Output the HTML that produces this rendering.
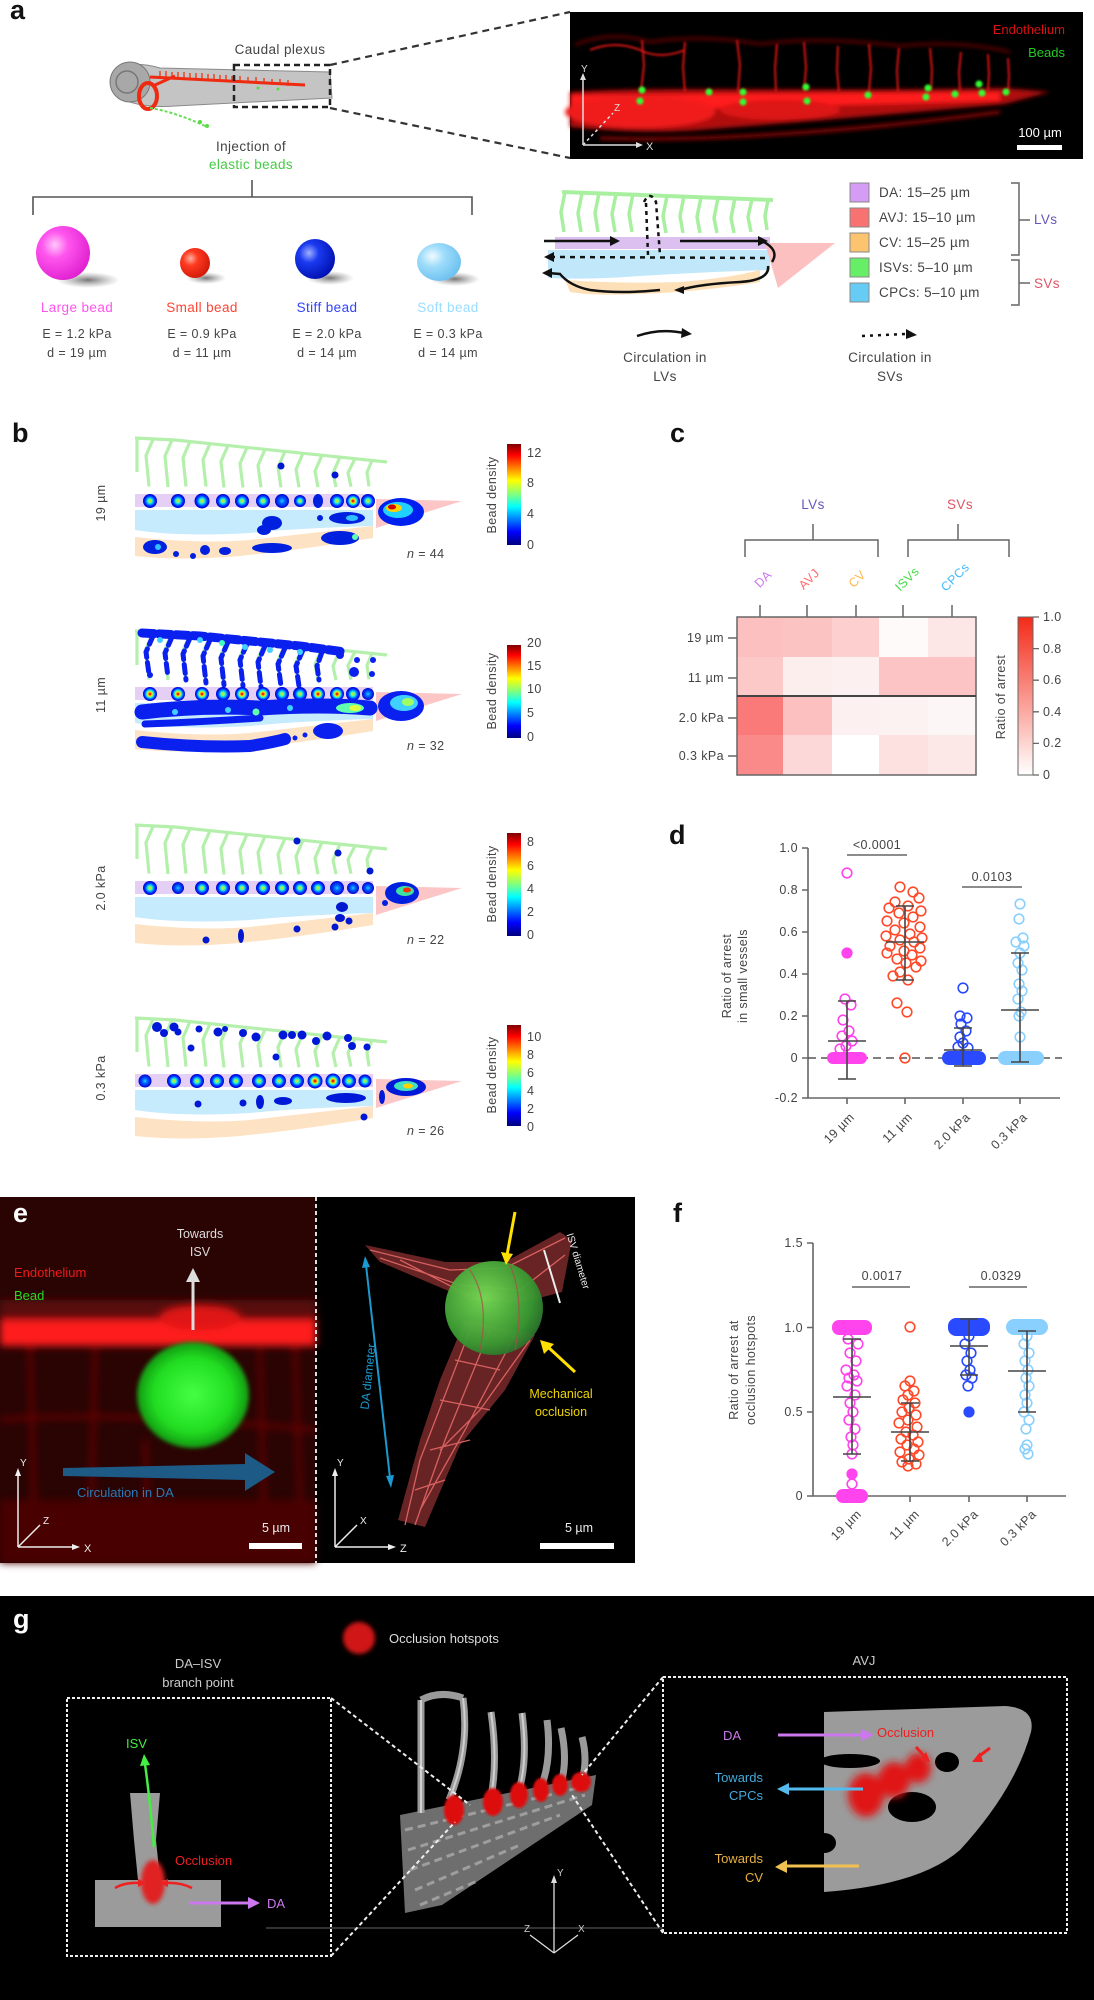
<!DOCTYPE html>
<html><head><meta charset="utf-8">
<style>
html,body{margin:0;padding:0;background:#fff;}
svg{display:block;font-family:"Liberation Sans",Arial,sans-serif;}
.t{fill:#444;font-size:13.5px;letter-spacing:0.4px}
.s{fill:#444;font-size:12.5px;letter-spacing:0.4px}
.L{font-weight:bold;font-size:27px;fill:#111}
.m{fill:none;stroke:#ff44ee;stroke-width:1.6}
.r{fill:none;stroke:#ff4a2a;stroke-width:1.6}
.b{fill:none;stroke:#2a4aff;stroke-width:1.6}
.l{fill:none;stroke:#8ad0ff;stroke-width:1.6}
.eb{stroke:#444;stroke-width:1.6;fill:none}
.ax{stroke:#666;stroke-width:1.6;fill:none}
</style></head>
<body>
<svg width="1094" height="2000" viewBox="0 0 1094 2000" xmlns="http://www.w3.org/2000/svg">
<defs>
<filter id="bl1" x="-20%" y="-20%" width="140%" height="140%"><feGaussianBlur stdDeviation="1"/></filter>
<filter id="bl2" x="-30%" y="-30%" width="160%" height="160%"><feGaussianBlur stdDeviation="2"/></filter>
<filter id="bl4" x="-30%" y="-30%" width="160%" height="160%"><feGaussianBlur stdDeviation="4"/></filter>
<filter id="bl6" x="-40%" y="-40%" width="180%" height="180%"><feGaussianBlur stdDeviation="6"/></filter>
<radialGradient id="j1"><stop offset="0" stop-color="#c00000"/><stop offset=".15" stop-color="#ff4000"/><stop offset=".3" stop-color="#ffe000"/><stop offset=".45" stop-color="#60ff90"/><stop offset=".6" stop-color="#00c0ff"/><stop offset=".78" stop-color="#0030ff"/><stop offset="1" stop-color="#0000d0"/></radialGradient>
<radialGradient id="j2"><stop offset="0" stop-color="#ffd000"/><stop offset=".25" stop-color="#60ff90"/><stop offset=".45" stop-color="#00c0ff"/><stop offset=".7" stop-color="#0030ff"/><stop offset="1" stop-color="#0000d0"/></radialGradient>
<radialGradient id="j3"><stop offset="0" stop-color="#20d0ff"/><stop offset=".4" stop-color="#0060ff"/><stop offset="1" stop-color="#0000d0"/></radialGradient>
<linearGradient id="jet" x1="0" y1="0" x2="0" y2="1"><stop offset="0" stop-color="#7f0000"/><stop offset=".11" stop-color="#ff0000"/><stop offset=".36" stop-color="#ffff00"/><stop offset=".5" stop-color="#7fff80"/><stop offset=".62" stop-color="#00ffff"/><stop offset=".87" stop-color="#0000ff"/><stop offset="1" stop-color="#00007f"/></linearGradient>
<linearGradient id="redbar" x1="0" y1="0" x2="0" y2="1"><stop offset="0" stop-color="#f42a18"/><stop offset="1" stop-color="#ffffff"/></linearGradient>
<radialGradient id="gm" cx=".35" cy=".35" r=".7"><stop offset="0" stop-color="#ffc8fa"/><stop offset=".35" stop-color="#ff55ee"/><stop offset="1" stop-color="#e020d0"/></radialGradient>
<radialGradient id="gr" cx=".35" cy=".35" r=".7"><stop offset="0" stop-color="#ffb0a0"/><stop offset=".35" stop-color="#ff3a20"/><stop offset="1" stop-color="#d01a0a"/></radialGradient>
<radialGradient id="gb" cx=".35" cy=".35" r=".7"><stop offset="0" stop-color="#a0b0ff"/><stop offset=".35" stop-color="#1a3af0"/><stop offset="1" stop-color="#0010b0"/></radialGradient>
<radialGradient id="gl" cx=".35" cy=".35" r=".7"><stop offset="0" stop-color="#f0fbff"/><stop offset=".4" stop-color="#9ddcfa"/><stop offset="1" stop-color="#6cc0f0"/></radialGradient>
<radialGradient id="gg"><stop offset="0" stop-color="#44ff44"/><stop offset=".7" stop-color="#22dd22"/><stop offset="1" stop-color="#119911"/></radialGradient>
<radialGradient id="gg2" cx=".4" cy=".4" r=".7"><stop offset="0" stop-color="#77dd55"/><stop offset=".7" stop-color="#3a9a32"/><stop offset="1" stop-color="#24622a"/></radialGradient>
<radialGradient id="sh"><stop offset="0" stop-color="#555" stop-opacity=".8"/><stop offset="1" stop-color="#888" stop-opacity="0"/></radialGradient>

<g id="fb">
<path d="M137,438 L137,472 M135,438 L175,440 L387,462" stroke="#b4f0ac" stroke-width="3.2" fill="none"/>
<path d="M153,439.5 l-7,16 l3,31 M172,440 l-7,16 l3,31 M190,441.6 l-7,16 l3,29 M210,443.6 l-7,16 l3,27 M228,445.5 l-7,16 l3,26 M247,447.5 l-7,16 l3,24 M265,449.3 l-7,16 l3,22 M285,451.4 l-7,16 l3,20 M303,453.3 l-7,16 l3,18 M322,455.2 l-7,16 l3,16 M340,457.1 l-7,16 l3,14 M355,458.7 l-7,14 l3,14 M372,460.4 l-5,12 l2,14" stroke="#b4f0ac" stroke-width="3.2" fill="none"/>
<rect x="135" y="494" width="238" height="13" fill="#e6cff5"/>
<path d="M135,510 L373,510 L373,526 Q300,528 250,533 Q180,537 135,530 Z" fill="#c6ebfc"/>
<path d="M135,537 Q200,544 250,540 Q320,532 373,526 L373,538 Q300,550 240,556 Q180,561 135,556 Z" fill="#fde3c3"/>
<polygon points="376,499 462,501 376,528" fill="#fcc6c6"/>
</g>
</defs>

<!-- ================= PANEL A ================= -->
<text x="10" y="19" class="L">a</text>
<path d="M112,80 C112,62 140,62 160,68 L330,72 L332,98 L175,106 C150,108 120,104 112,90 Z" fill="#c4c4c4" stroke="#8a8a8a" stroke-width="1"/>
<circle cx="130" cy="82" r="20" fill="#a8a8a8" stroke="#777" stroke-width="1"/>
<circle cx="127" cy="82" r="11" fill="none" stroke="#777" stroke-width="1.5"/>
<path d="M150,77 L305,85" stroke="#ee2a10" stroke-width="3"/>
<path d="M160,71 v6 M166,71 v6 M172,72 v6 M178,72 v6 M184,72 v6 M190,73 v6 M196,73 v6 M202,73 v6 M208,74 v6 M214,74 v6 M220,75 v6 M226,75 v6 M232,76 v6 M240,76 v6 M248,77 v6 M256,77 v6 M264,78 v6 M272,79 v6 M280,79 v6 M288,80 v6" stroke="#ee3010" stroke-width="1.3"/>
<ellipse cx="148" cy="96" rx="9" ry="13" fill="none" stroke="#ee2a10" stroke-width="4"/>
<path d="M155,85 L175,76" stroke="#ee2a10" stroke-width="3"/>
<path d="M150,108 Q175,112 205,126" stroke="#66dd55" stroke-width="2" fill="none" stroke-dasharray="3 2"/>
<circle cx="200" cy="122" r="2" fill="#55dd44"/><circle cx="207" cy="126" r="2" fill="#55dd44"/><circle cx="258" cy="88" r="1.5" fill="#55dd44"/><circle cx="278" cy="89" r="1.5" fill="#55dd44"/>
<rect x="234" y="65" width="96" height="42" fill="none" stroke="#222" stroke-width="2.5" stroke-dasharray="6 4"/>
<path d="M330,65 L570,12 M330,108 L570,158" stroke="#333" stroke-width="2.2" stroke-dasharray="7 5"/>
<text x="280" y="54" class="t" text-anchor="middle">Caudal plexus</text>
<text x="251" y="151" class="t" text-anchor="middle">Injection of</text>
<text x="251" y="169" class="t" text-anchor="middle" style="fill:#44cc44">elastic beads</text>
<path d="M252,180 V197 M33,215 V197 H472 V215" stroke="#555" stroke-width="1.6" fill="none"/>
<ellipse cx="88" cy="280" rx="32" ry="8" fill="url(#sh)"/>
<circle cx="63" cy="253" r="27" fill="url(#gm)"/>
<ellipse cx="206" cy="278" rx="20" ry="6" fill="url(#sh)"/>
<circle cx="195" cy="263" r="15" fill="url(#gr)"/>
<ellipse cx="330" cy="278" rx="24" ry="7" fill="url(#sh)"/>
<circle cx="315" cy="259" r="20" fill="url(#gb)"/>
<ellipse cx="455" cy="279" rx="25" ry="7" fill="url(#sh)"/>
<ellipse cx="439" cy="262" rx="22" ry="19" fill="url(#gl)"/>
<text x="77" y="312" class="t" text-anchor="middle" style="fill:#ff55ee">Large bead</text>
<text x="202" y="312" class="t" text-anchor="middle" style="fill:#ff4433">Small bead</text>
<text x="327" y="312" class="t" text-anchor="middle" style="fill:#3344ff">Stiff bead</text>
<text x="448" y="312" class="t" text-anchor="middle" style="fill:#99ddff">Soft bead</text>
<g class="s" text-anchor="middle">
<text x="77" y="338">E = 1.2 kPa</text><text x="77" y="357">d = 19 µm</text>
<text x="202" y="338">E = 0.9 kPa</text><text x="202" y="357">d = 11 µm</text>
<text x="327" y="338">E = 2.0 kPa</text><text x="327" y="357">d = 14 µm</text>
<text x="448" y="338">E = 0.3 kPa</text><text x="448" y="357">d = 14 µm</text>
</g>
<!-- microscopy -->
<rect x="570" y="12" width="513" height="147" fill="#000"/>
<g filter="url(#bl2)">
<path d="M575,45 Q610,30 650,42 Q700,34 760,44 Q820,36 900,46 Q960,40 1010,52" stroke="#8a0a0a" stroke-width="2" fill="none"/>
<path d="M570,92 C650,86 800,92 1005,88 L1050,92 L1005,104 C900,114 800,122 700,130 C650,134 600,130 570,127 Z" fill="#b00c0c"/>
<path d="M570,95 L1000,92 L1000,101 L570,112 Z" fill="#ff1a1a"/>
<ellipse cx="640" cy="112" rx="75" ry="16" fill="#f01c1c"/>
<ellipse cx="780" cy="110" rx="60" ry="10" fill="#dd1616"/>
<path d="M600,138 C700,142 850,132 1000,112" stroke="#a00c0c" stroke-width="3" fill="none"/>
</g>
<g filter="url(#bl1)" stroke="#d81414" stroke-width="2" fill="none">
<path d="M642,40 l2,25 l-3,27 M685,42 l-2,25 l2,25 M737,40 l3,25 l-2,27 M777,44 l-2,24 l1,24 M804,42 l2,25 l-2,25 M838,46 l-1,24 l2,22 M869,44 l2,25 l-2,23 M899,48 l-2,22 l1,22 M930,48 l2,22 l-1,22 M961,52 l-2,20 l1,20 M988,54 l1,20 l-1,18 M1008,58 l1,18 l-1,16"/>
<path d="M590,50 Q615,40 640,50 Q660,60 685,50" />
</g>
<g fill="#3f3" filter="url(#bl1)">
<circle cx="642" cy="90" r="3.5"/><circle cx="640" cy="101" r="3.5"/><circle cx="709" cy="92" r="3.5"/><circle cx="743" cy="92" r="3.5"/><circle cx="743" cy="102" r="3.5"/><circle cx="806" cy="87" r="3.5"/><circle cx="807" cy="101" r="3.5"/><circle cx="868" cy="95" r="3.5"/><circle cx="928" cy="88" r="3.5"/><circle cx="926" cy="97" r="3.5"/><circle cx="955" cy="94" r="3.5"/><circle cx="979" cy="84" r="3.5"/><circle cx="982" cy="93" r="3.5"/><circle cx="1006" cy="92" r="3.5"/>
</g>
<text x="1065" y="34" text-anchor="end" style="fill:#d81010;font-size:13px">Endothelium</text>
<text x="1065" y="57" text-anchor="end" style="fill:#22cc22;font-size:13px">Beads</text>
<text x="1040" y="137" text-anchor="middle" style="fill:#fff;font-size:13px">100 µm</text>
<rect x="1017" y="145" width="45" height="5" fill="#fff"/>
<path d="M583,145 V76 M583,145 H640" stroke="#ddd" stroke-width="1.5"/>
<path d="M583,145 L613,113" stroke="#ddd" stroke-width="1.5" stroke-dasharray="3 3"/>
<path d="M580,80 L583,73 L586,80 Z M636,142 L643,145 L636,148 Z" fill="#ddd"/>
<text x="581" y="72" style="fill:#ddd;font-size:10px">Y</text><text x="646" y="150" style="fill:#ddd;font-size:11px">X</text><text x="614" y="111" style="fill:#ddd;font-size:10px">Z</text>

<!-- schematic -->
<path d="M562,192 L773,200" stroke="#a8f0a0" stroke-width="4" fill="none"/>
<path d="M565,192 l-4,20 l3,20 M582,193 l-4,20 l3,19 M599,193 l-4,20 l3,19 M616,194 l-4,20 l3,18 M633,194 l-4,20 l3,18 M667,196 l-4,20 l3,17 M684,196 l-4,20 l3,17 M701,197 l-4,20 l3,16 M718,198 l-4,20 l3,15 M735,198 l-4,20 l3,15 M752,199 l-4,18 l3,15 M768,200 l-3,16 l2,14" stroke="#a8f0a0" stroke-width="3.5" fill="none"/>
<rect x="555" y="237" width="215" height="12" fill="#dcc0f0"/>
<path d="M548,250 L770,250 L770,270 Q700,272 640,276 Q590,280 548,278 Z" fill="#c0e8fa"/>
<path d="M565,280 Q620,284 680,282 Q730,278 760,270 L760,282 Q700,292 640,294 Q590,296 570,292 Z" fill="#fde0b8"/>
<polygon points="765,243 835,243 778,288" fill="#fcc0c0"/>
<path d="M644,202 Q650,190 656,202 L660,255" stroke="#111" stroke-width="2.5" stroke-dasharray="4 4" fill="none"/>
<path d="M646,203 L648,255" stroke="#111" stroke-width="2.5" stroke-dasharray="4 4" fill="none"/>
<path d="M544,241 L612,241 M680,241 L762,241 Q780,250 772,262" stroke="#111" stroke-width="2.5" fill="none"/>
<path d="M610,236 L620,241 L610,246 Z M758,236 L768,241 L758,246 Z" fill="#111"/>
<path d="M765,258 L552,257" stroke="#111" stroke-width="2.5" stroke-dasharray="5 5" fill="none"/>
<path d="M554,252 L544,257 L554,262 Z" fill="#111"/>
<path d="M768,266 Q770,280 740,282 Q700,284 680,290 M660,290 Q620,294 590,290 Q570,286 560,274 L548,273" stroke="#111" stroke-width="2.5" fill="none"/>
<path d="M552,268 L542,273 L552,278 Z M684,286 L674,290 L684,294 Z" fill="#111"/>
<g stroke="#888" stroke-width="1">
<rect x="850" y="183" width="19" height="19" fill="#d59cf5"/>
<rect x="850" y="208" width="19" height="19" fill="#f87272"/>
<rect x="850" y="233" width="19" height="19" fill="#fcc46e"/>
<rect x="850" y="258" width="19" height="19" fill="#66ee66"/>
<rect x="850" y="283" width="19" height="19" fill="#66ccf5"/>
</g>
<g class="t">
<text x="879" y="197">DA: 15–25 µm</text>
<text x="879" y="222">AVJ: 15–10 µm</text>
<text x="879" y="247">CV: 15–25 µm</text>
<text x="879" y="272">ISVs: 5–10 µm</text>
<text x="879" y="297">CPCs: 5–10 µm</text>
</g>
<path d="M1011,183 H1019 V255 H1011 M1019,220 H1030 M1011,260 H1019 V305 H1011 M1019,283 H1030" stroke="#666" stroke-width="1.5" fill="none"/>
<text x="1034" y="224" class="t" style="fill:#6655bb">LVs</text>
<text x="1034" y="288" class="t" style="fill:#dd5566">SVs</text>
<path d="M637,336 Q660,328 684,333" stroke="#111" stroke-width="2.5" fill="none"/>
<path d="M682,328 L692,334 L681,338 Z" fill="#111"/>
<path d="M862,336 L906,334" stroke="#111" stroke-width="2.5" stroke-dasharray="3 5" fill="none"/>
<path d="M906,329 L917,335 L906,339 Z" fill="#111"/>
<g class="t" text-anchor="middle">
<text x="665" y="362">Circulation in</text><text x="665" y="381">LVs</text>
<text x="890" y="362">Circulation in</text><text x="890" y="381">SVs</text>
</g>

<!-- ================= PANEL B ================= -->
<text x="12" y="442" class="L">b</text>
<use href="#fb"/>
<use href="#fb" transform="translate(0,193)"/>
<use href="#fb" transform="translate(0,387)"/>
<use href="#fb" transform="translate(0,580)"/>

<g>
<circle cx="150" cy="501" r="7" fill="url(#j2)"/><circle cx="178" cy="501" r="7" fill="url(#j2)"/><circle cx="202" cy="501" r="7.5" fill="url(#j2)"/><circle cx="223" cy="501" r="7" fill="url(#j2)"/><circle cx="242" cy="501" r="7" fill="url(#j2)"/><circle cx="263" cy="501" r="7" fill="url(#j2)"/><circle cx="282" cy="501" r="7" fill="url(#j3)"/><circle cx="300" cy="501" r="6" fill="url(#j2)"/><ellipse cx="318" cy="501" rx="5" ry="7" fill="#0020e0"/><circle cx="337" cy="501" r="7" fill="url(#j2)"/><circle cx="353" cy="501" r="7" fill="url(#j1)"/><circle cx="368" cy="501" r="7" fill="url(#j2)"/>
<circle cx="281" cy="466" r="3.5" fill="#0018d0"/><circle cx="335" cy="475" r="3.5" fill="#0018d0"/>
<ellipse cx="401" cy="512" rx="23" ry="14" fill="#0020f0"/><ellipse cx="398" cy="510" rx="15" ry="8" fill="#20d0ff"/><ellipse cx="394" cy="508" rx="8" ry="4" fill="#ffd000"/><ellipse cx="392" cy="507" rx="4" ry="2.5" fill="#d00000"/>
<ellipse cx="272" cy="523" rx="10" ry="7" fill="#0020e0"/><ellipse cx="264" cy="530" rx="7" ry="5" fill="#0020e0"/><circle cx="320" cy="518" r="3" fill="#0020e0"/>
<ellipse cx="347" cy="518" rx="18" ry="6" fill="#0020e0"/><ellipse cx="352" cy="518" rx="6" ry="3" fill="#30c0ff"/>
<ellipse cx="340" cy="538" rx="19" ry="7" fill="#0020e0"/><circle cx="355" cy="537" r="3" fill="#60ffb0"/>
<ellipse cx="155" cy="547" rx="12" ry="7" fill="#0020e0"/><circle cx="158" cy="547" r="3" fill="#30c0ff"/><circle cx="176" cy="554" r="3" fill="#0020e0"/><circle cx="193" cy="556" r="3" fill="#0020e0"/><circle cx="205" cy="550" r="5" fill="#0020e0"/><ellipse cx="225" cy="551" rx="6" ry="4" fill="#0020e0"/><ellipse cx="272" cy="548" rx="20" ry="5" fill="#0020e0"/>
</g>
<g>
<path d="M142,633 L200,636 L300,646 L345,652" stroke="#0a20ee" stroke-width="9" fill="none" stroke-linecap="round" stroke-dasharray="12 5"/>
<path d="M153,636 l-7,16 l3,22 M172,637 l-7,16 l3,24 M190,638 l-7,16 l3,26 M210,640 l-7,16 l3,27 M228,642 l-7,16 l3,27 M247,644 l-7,16 l3,26 M265,646 l-7,16 l3,25 M285,648 l-7,16 l3,22 M303,650 l-7,16 l3,20 M322,652 l-5,14 l2,14" stroke="#0a20ee" stroke-width="5" fill="none" stroke-linecap="round" stroke-dasharray="9 5"/>
<circle cx="160" cy="640" r="3" fill="#40d0ff"/><circle cx="200" cy="640" r="3" fill="#40d0ff"/><circle cx="222" cy="643" r="3" fill="#40ffc0"/><circle cx="245" cy="647" r="3" fill="#40d0ff"/><circle cx="270" cy="650" r="3" fill="#40d0ff"/><circle cx="300" cy="652" r="3" fill="#40d0ff"/><circle cx="340" cy="655" r="4" fill="#0a20ee"/><circle cx="357" cy="660" r="3" fill="#0a20ee"/><circle cx="373" cy="660" r="3" fill="#0a20ee"/><circle cx="354" cy="672" r="5" fill="#0a20ee"/><circle cx="372" cy="674" r="3" fill="#0a20ee"/><circle cx="150" cy="675" r="3" fill="#0a20ee"/>
<circle cx="150" cy="694" r="7" fill="url(#j1)"/><circle cx="178" cy="694" r="7" fill="url(#j1)"/><circle cx="202" cy="694" r="7" fill="url(#j1)"/><circle cx="223" cy="694" r="7" fill="url(#j2)"/><circle cx="242" cy="694" r="7" fill="url(#j1)"/><circle cx="263" cy="694" r="7" fill="url(#j1)"/><circle cx="282" cy="694" r="7" fill="url(#j2)"/><circle cx="300" cy="694" r="7" fill="url(#j2)"/><circle cx="318" cy="694" r="7" fill="url(#j1)"/><circle cx="337" cy="694" r="7" fill="url(#j1)"/><circle cx="353" cy="694" r="7" fill="url(#j2)"/><circle cx="368" cy="694" r="6" fill="url(#j3)"/>
<path d="M142,712 Q200,705 260,708 Q320,704 370,708" stroke="#0a20ee" stroke-width="15" fill="none" stroke-linecap="round"/>
<path d="M145,724 Q200,722 260,718" stroke="#0a20ee" stroke-width="7" fill="none" stroke-linecap="round"/>
<circle cx="175" cy="712" r="3" fill="#40d0ff"/><circle cx="228" cy="710" r="3" fill="#40d0ff"/><circle cx="256" cy="712" r="3.5" fill="#60ffb0"/><circle cx="290" cy="708" r="3" fill="#40d0ff"/><ellipse cx="350" cy="708" rx="14" ry="5" fill="#60ffb0"/><ellipse cx="355" cy="708" rx="6" ry="3" fill="#e0ff40"/>
<path d="M142,742 Q200,748 250,746 Q275,742 285,739" stroke="#0a20ee" stroke-width="12" fill="none" stroke-linecap="round"/>
<circle cx="295" cy="738" r="2.5" fill="#0a20ee"/><circle cx="305" cy="735" r="2.5" fill="#0a20ee"/><ellipse cx="328" cy="731" rx="15" ry="8" fill="#0a20ee"/>
<ellipse cx="401" cy="706" rx="23" ry="15" fill="#0a20ee"/><ellipse cx="404" cy="703" rx="14" ry="8" fill="#40d0ff"/><ellipse cx="408" cy="702" rx="6" ry="4" fill="#a0ff60"/>
</g>
<g>
<circle cx="150" cy="888" r="7" fill="url(#j2)"/><circle cx="178" cy="888" r="6" fill="url(#j3)"/><circle cx="202" cy="888" r="7" fill="url(#j2)"/><circle cx="223" cy="888" r="7" fill="url(#j2)"/><circle cx="242" cy="888" r="7" fill="url(#j2)"/><circle cx="263" cy="888" r="7" fill="url(#j2)"/><circle cx="282" cy="888" r="7" fill="url(#j2)"/><circle cx="300" cy="888" r="7" fill="url(#j2)"/><circle cx="318" cy="888" r="7" fill="url(#j2)"/><circle cx="337" cy="888" r="7" fill="url(#j3)"/><circle cx="353" cy="888" r="6" fill="url(#j3)"/><circle cx="368" cy="888" r="6" fill="url(#j3)"/>
<circle cx="297" cy="841" r="3.5" fill="#0018d0"/><circle cx="338" cy="853" r="3.5" fill="#0018d0"/><circle cx="370" cy="871" r="3.5" fill="#0018d0"/>
<ellipse cx="342" cy="907" rx="6" ry="5" fill="#0018d0"/><ellipse cx="340" cy="918" rx="5" ry="4" fill="#0018d0"/>
<circle cx="206" cy="940" r="3.5" fill="#0018d0"/><ellipse cx="241" cy="936" rx="3" ry="7" fill="#0018d0"/><circle cx="297" cy="929" r="3.5" fill="#0018d0"/><circle cx="335" cy="927" r="3.5" fill="#0018d0"/><circle cx="349" cy="921" r="3.5" fill="#0018d0"/>
<ellipse cx="402" cy="893" rx="17" ry="11" fill="#0020e0"/><ellipse cx="405" cy="891" rx="9" ry="5" fill="#40e0a0"/><ellipse cx="407" cy="890" rx="4" ry="2.5" fill="#ff3000"/><circle cx="385" cy="903" r="3" fill="#0020e0"/>
</g>
<g fill="#0018d8">
<circle cx="157" cy="1027" r="5"/><circle cx="164" cy="1033" r="4"/><circle cx="174" cy="1027" r="4.5"/><circle cx="178" cy="1032" r="3.5"/><circle cx="199" cy="1029" r="3.5"/><circle cx="218" cy="1032" r="4.5"/><circle cx="225" cy="1029" r="3"/><circle cx="243" cy="1033" r="4"/><circle cx="256" cy="1037" r="4.5"/><circle cx="283" cy="1035" r="4.5"/><circle cx="292" cy="1035" r="4"/><circle cx="302" cy="1035" r="4.5"/><circle cx="316" cy="1041" r="4"/><circle cx="327" cy="1036" r="4.5"/><circle cx="348" cy="1038" r="4"/><circle cx="352" cy="1046" r="4"/><circle cx="367" cy="1047" r="3.5"/><circle cx="191" cy="1048" r="3.5"/><circle cx="276" cy="1057" r="3.5"/>
<circle cx="198" cy="1104" r="3.5"/><circle cx="243" cy="1103" r="3.5"/><ellipse cx="260" cy="1102" rx="4" ry="7"/><ellipse cx="283" cy="1101" rx="9" ry="4"/><ellipse cx="346" cy="1098" rx="20" ry="5"/><circle cx="364" cy="1117" r="3.5"/>
<ellipse cx="382" cy="1097" rx="3" ry="7"/><ellipse cx="406" cy="1087" rx="20" ry="9"/>
</g>
<ellipse cx="406" cy="1086" rx="12" ry="5" fill="#40e0c0"/><ellipse cx="408" cy="1086" rx="5" ry="2.5" fill="#ffd000"/>
<g>
<circle cx="145" cy="1081" r="6.5" fill="url(#j3)"/><circle cx="174" cy="1081" r="7" fill="url(#j2)"/><circle cx="197" cy="1081" r="7" fill="url(#j2)"/><circle cx="217" cy="1081" r="7" fill="url(#j2)"/><circle cx="236" cy="1081" r="7" fill="url(#j2)"/><circle cx="259" cy="1081" r="7" fill="url(#j2)"/><circle cx="279" cy="1081" r="7" fill="url(#j2)"/><circle cx="297" cy="1081" r="7" fill="url(#j2)"/><circle cx="315" cy="1081" r="7.5" fill="url(#j1)"/><circle cx="333" cy="1081" r="7.5" fill="url(#j1)"/><circle cx="349" cy="1081" r="7" fill="url(#j2)"/><circle cx="365" cy="1081" r="6.5" fill="url(#j2)"/>
</g>
<rect x="507" y="444" width="14" height="101" fill="url(#jet)"/>
<rect x="507" y="645" width="14" height="93" fill="url(#jet)"/>
<rect x="507" y="833" width="14" height="103" fill="url(#jet)"/>
<rect x="507" y="1025" width="14" height="101" fill="url(#jet)"/>
<g class="s">
<text x="527" y="457">12</text><text x="527" y="487">8</text><text x="527" y="518">4</text><text x="527" y="549">0</text>
<text x="527" y="647">20</text><text x="527" y="670">15</text><text x="527" y="693">10</text><text x="527" y="717">5</text><text x="527" y="741">0</text>
<text x="527" y="846">8</text><text x="527" y="870">6</text><text x="527" y="893">4</text><text x="527" y="916">2</text><text x="527" y="939">0</text>
<text x="527" y="1041">10</text><text x="527" y="1059">8</text><text x="527" y="1077">6</text><text x="527" y="1095">4</text><text x="527" y="1113">2</text><text x="527" y="1131">0</text>
</g>
<g class="s" text-anchor="middle">
<text transform="translate(496,495) rotate(-90)">Bead density</text>
<text transform="translate(496,691) rotate(-90)">Bead density</text>
<text transform="translate(496,884) rotate(-90)">Bead density</text>
<text transform="translate(496,1075) rotate(-90)">Bead density</text>
<text transform="translate(105,503) rotate(-90)">19 µm</text>
<text transform="translate(105,695) rotate(-90)">11 µm</text>
<text transform="translate(105,888) rotate(-90)">2.0 kPa</text>
<text transform="translate(105,1078) rotate(-90)">0.3 kPa</text>
</g>
<g class="s">
<text x="407" y="558"><tspan font-style="italic">n</tspan> = 44</text>
<text x="407" y="750"><tspan font-style="italic">n</tspan> = 32</text>
<text x="407" y="944"><tspan font-style="italic">n</tspan> = 22</text>
<text x="407" y="1135"><tspan font-style="italic">n</tspan> = 26</text>
</g>

<!-- ================= PANEL C ================= -->
<text x="670" y="442" class="L">c</text>
<text x="813" y="509" class="t" text-anchor="middle" style="fill:#6655bb">LVs</text>
<text x="960" y="509" class="t" text-anchor="middle" style="fill:#dd5566">SVs</text>
<path d="M813,524 V540 M745,557 V540 H878 V557 M958,524 V540 M908,557 V540 H1009 V557" stroke="#666" stroke-width="1.5" fill="none"/>
<g class="s">
<text transform="translate(766,582) rotate(-45)" text-anchor="middle" style="fill:#cc77ee">DA</text>
<text transform="translate(812,582) rotate(-45)" text-anchor="middle" style="fill:#ff6a6a">AVJ</text>
<text transform="translate(860,582) rotate(-45)" text-anchor="middle" style="fill:#ffb84a">CV</text>
<text transform="translate(910,582) rotate(-45)" text-anchor="middle" style="fill:#44dd44">ISVs</text>
<text transform="translate(958,580) rotate(-45)" text-anchor="middle" style="fill:#44bbff">CPCs</text>
</g>
<path d="M760,605 V617 M807,605 V617 M856,605 V617 M903,605 V617 M952,605 V617 M728,638 H737 M728,678 H737 M728,718 H737 M728,756 H737" stroke="#666" stroke-width="1.5"/>
<rect x="737" y="617" width="46" height="40" fill="#fcc0c0"/>
<rect x="783" y="617" width="49" height="40" fill="#fcc3c3"/>
<rect x="832" y="617" width="47" height="40" fill="#fdcfcf"/>
<rect x="879" y="617" width="49" height="40" fill="#fefafa"/>
<rect x="928" y="617" width="48" height="40" fill="#fde6e6"/>
<rect x="737" y="657" width="46" height="39" fill="#fcc8c8"/>
<rect x="783" y="657" width="49" height="39" fill="#fdeeee"/>
<rect x="832" y="657" width="47" height="39" fill="#fdf0f0"/>
<rect x="879" y="657" width="49" height="39" fill="#fcc4c4"/>
<rect x="928" y="657" width="48" height="39" fill="#fcc4c4"/>
<rect x="737" y="696" width="46" height="39" fill="#fa7a7a"/>
<rect x="783" y="696" width="49" height="39" fill="#fcc0c0"/>
<rect x="832" y="696" width="47" height="39" fill="#fdf0f0"/>
<rect x="879" y="696" width="49" height="39" fill="#fdf2f2"/>
<rect x="928" y="696" width="48" height="39" fill="#fdf6f6"/>
<rect x="737" y="735" width="46" height="40" fill="#fa8a8a"/>
<rect x="783" y="735" width="49" height="40" fill="#fdd8d8"/>
<rect x="832" y="735" width="47" height="40" fill="#ffffff"/>
<rect x="879" y="735" width="49" height="40" fill="#fde0e0"/>
<rect x="928" y="735" width="48" height="40" fill="#fde8e8"/>
<rect x="737" y="617" width="239" height="158" fill="none" stroke="#666" stroke-width="1.5"/>
<path d="M737,696 H976" stroke="#444" stroke-width="2"/>
<g class="s" text-anchor="end">
<text x="724" y="642">19 µm</text><text x="724" y="682">11 µm</text><text x="724" y="722">2.0 kPa</text><text x="724" y="760">0.3 kPa</text>
</g>
<rect x="1018" y="617" width="15" height="158" fill="url(#redbar)" stroke="#666" stroke-width="1"/>
<path d="M1033,617 h6 M1033,648.6 h6 M1033,680.2 h6 M1033,711.8 h6 M1033,743.4 h6 M1033,775 h6" stroke="#666" stroke-width="1.3"/>
<g class="s">
<text x="1043" y="621">1.0</text><text x="1043" y="653">0.8</text><text x="1043" y="684">0.6</text><text x="1043" y="716">0.4</text><text x="1043" y="747">0.2</text><text x="1043" y="779">0</text>
</g>
<text transform="translate(1005,697) rotate(-90)" class="s" text-anchor="middle">Ratio of arrest</text>

<!-- ================= PANEL D ================= -->
<text x="669" y="844" class="L">d</text>
<path d="M808,848 V1098 H1060" class="ax"/>
<path d="M802,848 H808 M802,890 H808 M802,932 H808 M802,974 H808 M802,1016 H808 M802,1058 H808 M802,1098 H808 M847,1098 v6 M905,1098 v6 M963,1098 v6 M1020,1098 v6" class="ax"/>
<g class="s" text-anchor="end">
<text x="798" y="852">1.0</text><text x="798" y="894">0.8</text><text x="798" y="936">0.6</text><text x="798" y="978">0.4</text><text x="798" y="1020">0.2</text><text x="798" y="1062">0</text><text x="798" y="1102">-0.2</text>
</g>
<path d="M808,1058 H1062" stroke="#555" stroke-width="1.5" stroke-dasharray="8 5"/>
<text x="877" y="849" class="s" text-anchor="middle">&lt;0.0001</text>
<path d="M847,855 H907" stroke="#666" stroke-width="1.5"/>
<text x="992" y="881" class="s" text-anchor="middle">0.0103</text>
<path d="M962,887 H1022" stroke="#666" stroke-width="1.5"/>
<g class="s" text-anchor="middle">
<text transform="translate(731,976) rotate(-90)">Ratio of arrest</text>
<text transform="translate(747,976) rotate(-90)">in small vessels</text>
</g>
<g class="s" text-anchor="end">
<text transform="translate(855,1118) rotate(-45)">19 µm</text>
<text transform="translate(913,1118) rotate(-45)">11 µm</text>
<text transform="translate(971,1118) rotate(-45)">2.0 kPa</text>
<text transform="translate(1028,1118) rotate(-45)">0.3 kPa</text>
</g>
<rect x="827" y="1052" width="40" height="12" rx="6" fill="#ff44ee"/>
<g class="m">
<circle cx="847" cy="873" r="4.8"/><circle cx="847" cy="953" r="4.8" fill="#ff44ee"/><circle cx="845" cy="999" r="4.8"/><circle cx="851" cy="1005" r="4.8"/><circle cx="843" cy="1020" r="4.8"/><circle cx="849" cy="1031" r="4.8"/><circle cx="842" cy="1036" r="4.8"/><circle cx="852" cy="1041" r="4.8"/><circle cx="846" cy="1046" r="4.8"/><circle cx="840" cy="1049" r="4.8"/>
</g>
<g class="r">
<circle cx="900" cy="887" r="4.8"/><circle cx="913" cy="892" r="4.8"/><circle cx="919" cy="898" r="4.8"/><circle cx="895" cy="902" r="4.8"/><circle cx="908" cy="906" r="4.8"/><circle cx="889" cy="908" r="4.8"/><circle cx="921" cy="911" r="4.8"/><circle cx="899" cy="913" r="4.8"/><circle cx="913" cy="917" r="4.8"/><circle cx="887" cy="921" r="4.8"/><circle cx="904" cy="923" r="4.8"/><circle cx="920" cy="927" r="4.8"/><circle cx="895" cy="930" r="4.8"/><circle cx="910" cy="934" r="4.8"/><circle cx="886" cy="936" r="4.8"/><circle cx="922" cy="938" r="4.8"/><circle cx="900" cy="940" r="4.8"/><circle cx="914" cy="942" r="4.8"/><circle cx="890" cy="946" r="4.8"/><circle cx="920" cy="948" r="4.8"/><circle cx="904" cy="951" r="4.8"/><circle cx="887" cy="953" r="4.8"/><circle cx="912" cy="955" r="4.8"/><circle cx="897" cy="959" r="4.8"/><circle cx="921" cy="961" r="4.8"/><circle cx="906" cy="963" r="4.8"/><circle cx="916" cy="967" r="4.8"/><circle cx="900" cy="972" r="4.8"/><circle cx="893" cy="976" r="4.8"/><circle cx="908" cy="980" r="4.8"/><circle cx="897" cy="1003" r="4.8"/><circle cx="907" cy="1012" r="4.8"/><circle cx="905" cy="1058" r="4.8"/>
</g>
<rect x="942" y="1051" width="44" height="14" rx="7" fill="#2a4aff"/>
<g class="b">
<circle cx="963" cy="988" r="4.8"/><circle cx="960" cy="1016" r="4.8"/><circle cx="967" cy="1018" r="4.8"/><circle cx="961" cy="1024" r="4.8"/><circle cx="966" cy="1031" r="4.8"/><circle cx="960" cy="1037" r="4.8"/><circle cx="963" cy="1043" r="4.8"/><circle cx="958" cy="1047" r="4.8"/><circle cx="968" cy="1048" r="4.8"/>
</g>
<rect x="998" y="1051" width="46" height="14" rx="7" fill="#8ad0ff"/>
<g class="l">
<circle cx="1020" cy="904" r="4.8"/><circle cx="1019" cy="919" r="4.8"/><circle cx="1023" cy="938" r="4.8"/><circle cx="1016" cy="942" r="4.8"/><circle cx="1024" cy="946" r="4.8"/><circle cx="1020" cy="953" r="4.8"/><circle cx="1018" cy="963" r="4.8"/><circle cx="1022" cy="970" r="4.8"/><circle cx="1019" cy="984" r="4.8"/><circle cx="1022" cy="991" r="4.8"/><circle cx="1018" cy="999" r="4.8"/><circle cx="1021" cy="1012" r="4.8"/><circle cx="1019" cy="1016" r="4.8"/><circle cx="1020" cy="1037" r="4.8"/>
</g>
<path class="eb" d="M847,1001 V1079 M838,1001 H856 M838,1079 H856 M828,1041 H866 M905,906 V980 M896,906 H914 M896,980 H914 M886,942 H924 M963,1028 V1066 M954,1028 H972 M954,1066 H972 M944,1050 H982 M1020,953 V1062 M1011,953 H1029 M1011,1062 H1029 M1001,1010 H1039"/>

<!-- ================= PANEL E ================= -->
<rect x="0" y="1197" width="635" height="366" fill="#000"/>
<rect x="0" y="1197" width="316" height="366" fill="#2a0303"/>
<g filter="url(#bl4)">
<rect x="0" y="1300" width="316" height="25" fill="#5a0a0a"/>
<rect x="0" y="1320" width="316" height="26" fill="#ff1a1a"/>
<ellipse cx="200" cy="1318" rx="40" ry="12" fill="#e01818"/>
<path d="M30,1345 L35,1560 M95,1350 L90,1560 M145,1440 L150,1560 M260,1350 L265,1560 M295,1345 L300,1500 M0,1420 Q100,1410 316,1430" stroke="#6a0808" stroke-width="4" fill="none"/>
<rect x="0" y="1500" width="316" height="63" fill="#4a0505"/>
</g>
<ellipse cx="193" cy="1395" rx="56" ry="53" fill="url(#gg)" filter="url(#bl2)"/>
<path d="M193,1330 V1276" stroke="#ddd" stroke-width="3"/>
<path d="M186,1282 L193,1268 L200,1282 Z" fill="#ddd"/>
<text x="200" y="1238" text-anchor="middle" style="fill:#ddd;font-size:12.5px">Towards</text>
<text x="200" y="1256" text-anchor="middle" style="fill:#ddd;font-size:12.5px">ISV</text>
<text x="14" y="1277" style="fill:#ee1a1a;font-size:13px">Endothelium</text>
<text x="14" y="1300" style="fill:#22dd22;font-size:13px">Bead</text>
<polygon points="63,1468 245,1464 245,1453 275,1472 245,1491 245,1480 63,1476" fill="#1d5a85"/>
<text x="77" y="1497" style="fill:#2a7ab8;font-size:13px">Circulation in DA</text>
<path d="M18,1547 V1474 M18,1547 H75 M18,1547 L40,1525" stroke="#eee" stroke-width="1.5"/>
<path d="M15,1476 L18,1468 L21,1476 Z M72,1544 L80,1547 L72,1550 Z" fill="#eee"/>
<text x="20" y="1466" style="fill:#eee;font-size:10px">Y</text><text x="84" y="1552" style="fill:#eee;font-size:11px">X</text><text x="43" y="1524" style="fill:#eee;font-size:10px">Z</text>
<text x="262" y="1532" style="fill:#eee;font-size:12.5px">5 µm</text>
<rect x="249" y="1543" width="53" height="6" fill="#fff"/>
<path d="M316,1197 V1563" stroke="#ddd" stroke-width="2" stroke-dasharray="4 3"/>
<g>
<polygon points="365,1245 445,1262 505,1262 560,1232 572,1240 562,1292 520,1303 470,1300 380,1262" fill="#7a2a2a" opacity=".85"/>
<polygon points="465,1320 535,1335 505,1390 460,1445 425,1527 398,1520 420,1440 440,1380" fill="#7a2a2a" opacity=".85"/>
<path d="M370,1250 L450,1270 L505,1268 L565,1238 M380,1258 L460,1285 L520,1290 L565,1255 M400,1260 L470,1296 M470,1330 L420,1460 L405,1525 M490,1330 L445,1440 L415,1525 M515,1335 L465,1430 L420,1510 M530,1340 L480,1410 L440,1450 M455,1360 L500,1370 M440,1400 L490,1410 M430,1450 L470,1440 M415,1490 L445,1480" stroke="#d86060" stroke-width="1.3" fill="none"/>
</g>
<ellipse cx="494" cy="1308" rx="49" ry="47" fill="url(#gg2)" opacity=".95"/>
<path d="M470,1270 Q490,1300 480,1350 M510,1265 Q525,1300 515,1350" stroke="#b04848" stroke-width="1.3" fill="none" opacity=".7"/>
<path d="M515,1212 L507,1255" stroke="#ffe000" stroke-width="3"/>
<path d="M501,1252 L506,1265 L513,1254 Z" fill="#ffe000"/>
<path d="M575,1372 L548,1347" stroke="#ffe000" stroke-width="3"/>
<path d="M544,1354 L540,1340 L554,1344 Z" fill="#ffe000"/>
<text x="561" y="1398" text-anchor="middle" style="fill:#eed400;font-size:12.5px">Mechanical</text>
<text x="561" y="1416" text-anchor="middle" style="fill:#eed400;font-size:12.5px">occlusion</text>
<path d="M366,1265 L390,1478" stroke="#1a9ad0" stroke-width="2"/>
<path d="M362,1268 L365,1256 L370,1267 Z M386,1476 L391,1488 L394,1475 Z" fill="#1a9ad0"/>
<text transform="translate(372,1377) rotate(-84)" text-anchor="middle" style="fill:#1a9ad0;font-size:12px">DA diameter</text>
<path d="M544,1250 L560,1303" stroke="#eee" stroke-width="2"/>
<text transform="translate(575,1262) rotate(73)" text-anchor="middle" style="fill:#eee;font-size:10px">ISV diameter</text>
<path d="M335,1547 V1474 M335,1547 H391 M335,1547 L357,1525" stroke="#eee" stroke-width="1.5"/>
<path d="M332,1476 L335,1468 L338,1476 Z M388,1544 L396,1547 L388,1550 Z" fill="#eee"/>
<text x="337" y="1466" style="fill:#eee;font-size:10px">Y</text><text x="400" y="1552" style="fill:#eee;font-size:11px">Z</text><text x="360" y="1524" style="fill:#eee;font-size:10px">X</text>
<text x="565" y="1532" style="fill:#eee;font-size:12.5px">5 µm</text>
<rect x="540" y="1543" width="74" height="6" fill="#fff"/>
<text x="13" y="1222" class="L" style="fill:#fff">e</text>

<!-- ================= PANEL F ================= -->
<text x="673" y="1222" class="L">f</text>
<path d="M813,1243 V1496 H1066" class="ax"/>
<path d="M807,1243 H813 M807,1327.5 H813 M807,1412 H813 M807,1496 H813 M852,1496 v6 M910,1496 v6 M969,1496 v6 M1027,1496 v6" class="ax"/>
<g class="s" text-anchor="end">
<text x="803" y="1247">1.5</text><text x="803" y="1332">1.0</text><text x="803" y="1416">0.5</text><text x="803" y="1500">0</text>
</g>
<text x="882" y="1280" class="s" text-anchor="middle">0.0017</text>
<path d="M852,1287 H910" stroke="#666" stroke-width="1.5"/>
<text x="1001" y="1280" class="s" text-anchor="middle">0.0329</text>
<path d="M969,1287 H1027" stroke="#666" stroke-width="1.5"/>
<g class="s" text-anchor="middle">
<text transform="translate(738,1370) rotate(-90)">Ratio of arrest at</text>
<text transform="translate(755,1370) rotate(-90)">occlusion hotspots</text>
</g>
<g class="s" text-anchor="end">
<text transform="translate(862,1515) rotate(-45)">19 µm</text>
<text transform="translate(920,1515) rotate(-45)">11 µm</text>
<text transform="translate(979,1515) rotate(-45)">2.0 kPa</text>
<text transform="translate(1037,1515) rotate(-45)">0.3 kPa</text>
</g>
<rect x="832" y="1320" width="40" height="15" rx="7" fill="#ff44ee"/>
<rect x="836" y="1489" width="32" height="14" rx="7" fill="#ff44ee"/>
<g class="m">
<circle cx="848" cy="1339" r="4.8"/><circle cx="858" cy="1344" r="4.8"/><circle cx="850" cy="1353" r="4.8"/><circle cx="856" cy="1361" r="4.8"/><circle cx="846" cy="1370" r="4.8"/><circle cx="854" cy="1375" r="4.8"/><circle cx="849" cy="1378" r="4.8"/><circle cx="857" cy="1381" r="4.8"/><circle cx="847" cy="1386" r="4.8"/><circle cx="855" cy="1395" r="4.8"/><circle cx="850" cy="1403" r="4.8"/><circle cx="853" cy="1412" r="4.8"/><circle cx="849" cy="1420" r="4.8"/><circle cx="855" cy="1429" r="4.8"/><circle cx="851" cy="1437" r="4.8"/><circle cx="853" cy="1445" r="4.8"/><circle cx="852" cy="1454" r="4.8"/><circle cx="852" cy="1474" r="4.8" fill="#ff44ee"/><circle cx="852" cy="1484" r="4.8"/>
</g>
<g class="r">
<circle cx="910" cy="1327" r="4.8"/><circle cx="910" cy="1381" r="4.8"/><circle cx="905" cy="1386" r="4.8"/><circle cx="914" cy="1391" r="4.8"/><circle cx="908" cy="1395" r="4.8"/><circle cx="903" cy="1400" r="4.8"/><circle cx="915" cy="1403" r="4.8"/><circle cx="909" cy="1408" r="4.8"/><circle cx="902" cy="1412" r="4.8"/><circle cx="916" cy="1415" r="4.8"/><circle cx="908" cy="1420" r="4.8"/><circle cx="899" cy="1423" r="4.8"/><circle cx="917" cy="1427" r="4.8"/><circle cx="906" cy="1432" r="4.8"/><circle cx="913" cy="1435" r="4.8"/><circle cx="901" cy="1439" r="4.8"/><circle cx="918" cy="1442" r="4.8"/><circle cx="907" cy="1445" r="4.8"/><circle cx="914" cy="1449" r="4.8"/><circle cx="900" cy="1452" r="4.8"/><circle cx="919" cy="1455" r="4.8"/><circle cx="909" cy="1459" r="4.8"/><circle cx="902" cy="1462" r="4.8"/><circle cx="916" cy="1464" r="4.8"/><circle cx="908" cy="1466" r="4.8"/>
</g>
<rect x="948" y="1318" width="42" height="18" rx="8" fill="#2a4aff"/>
<g class="b">
<circle cx="969" cy="1336" r="4.8"/><circle cx="965" cy="1344" r="4.8"/><circle cx="971" cy="1353" r="4.8"/><circle cx="967" cy="1361" r="4.8"/><circle cx="970" cy="1370" r="4.8"/><circle cx="966" cy="1375" r="4.8"/><circle cx="972" cy="1378" r="4.8"/><circle cx="968" cy="1386" r="4.8"/><circle cx="969" cy="1412" r="4.8" fill="#2a4aff"/>
</g>
<rect x="1006" y="1319" width="42" height="16" rx="8" fill="#8ad0ff"/>
<g class="l">
<circle cx="1027" cy="1336" r="4.8"/><circle cx="1024" cy="1344" r="4.8"/><circle cx="1029" cy="1353" r="4.8"/><circle cx="1025" cy="1361" r="4.8"/><circle cx="1028" cy="1370" r="4.8"/><circle cx="1026" cy="1378" r="4.8"/><circle cx="1029" cy="1386" r="4.8"/><circle cx="1025" cy="1395" r="4.8"/><circle cx="1027" cy="1403" r="4.8"/><circle cx="1024" cy="1412" r="4.8"/><circle cx="1029" cy="1420" r="4.8"/><circle cx="1026" cy="1429" r="4.8"/><circle cx="1027" cy="1445" r="4.8"/><circle cx="1025" cy="1449" r="4.8"/><circle cx="1028" cy="1454" r="4.8"/>
</g>
<path class="eb" d="M852,1339 V1454 M843,1339 H861 M843,1454 H861 M833,1397 H871 M910,1403 V1461 M901,1403 H919 M901,1461 H919 M891,1432 H929 M969,1319 V1375 M960,1319 H978 M960,1375 H978 M950,1346 H988 M1027,1331 V1412 M1018,1331 H1036 M1018,1412 H1036 M1008,1371 H1046"/>

<!-- ================= PANEL G ================= -->
<rect x="0" y="1596" width="1094" height="404" fill="#000"/>
<text x="13" y="1628" class="L" style="fill:#fff">g</text>
<ellipse cx="359" cy="1638" rx="16" ry="16" fill="#d01515" filter="url(#bl2)"/>
<text x="389" y="1643" style="fill:#ddd;font-size:13px">Occlusion hotspots</text>
<text x="198" y="1668" text-anchor="middle" style="fill:#ccc;font-size:13px">DA–ISV</text>
<text x="198" y="1687" text-anchor="middle" style="fill:#ccc;font-size:13px">branch point</text>
<text x="864" y="1665" text-anchor="middle" style="fill:#ccc;font-size:13px">AVJ</text>
<rect x="67" y="1698" width="264" height="258" fill="none" stroke="#eee" stroke-width="2" stroke-dasharray="3 2"/>
<rect x="663" y="1677" width="404" height="256" fill="none" stroke="#eee" stroke-width="2" stroke-dasharray="3 2"/>
<path d="M266,1928 H663" stroke="#444" stroke-width="1.5"/>
<g>
<polygon points="400,1815 596,1775 592,1805 442,1905 405,1913" fill="#6e6e6e"/>
<path d="M405,1830 L590,1785 M408,1850 L585,1795 M410,1870 L560,1815 M415,1890 L520,1845 M420,1905 L480,1880" stroke="#aaa" stroke-width="3" stroke-dasharray="8 5" fill="none" opacity=".8"/>
<path d="M421,1700 V1813 M463,1698 Q470,1750 449,1800 M491,1712 Q498,1760 491,1797 M522,1713 Q528,1760 519,1790 M547,1720 Q552,1760 541,1787 M561,1728 Q568,1760 561,1783 M582,1737 Q588,1760 582,1780 M421,1700 Q440,1690 463,1698" stroke="#9a9a9a" stroke-width="7" fill="none"/>
<path d="M421,1700 V1813 M463,1698 Q470,1750 449,1800 M491,1712 Q498,1760 491,1797 M522,1713 Q528,1760 519,1790" stroke="#cfcfcf" stroke-width="2" fill="none"/>
</g>
<g fill="#dd1111" filter="url(#bl1)">
<ellipse cx="454" cy="1810" rx="10" ry="15"/><ellipse cx="493" cy="1802" rx="10" ry="14"/><ellipse cx="519" cy="1795" rx="9" ry="13"/><ellipse cx="541" cy="1790" rx="8" ry="12"/><ellipse cx="560" cy="1785" rx="8" ry="11"/><ellipse cx="581" cy="1782" rx="10" ry="10"/>
</g>
<path d="M331,1698 L470,1805 M331,1956 L455,1822 M663,1677 L582,1775 M663,1933 L572,1795" stroke="#eee" stroke-width="2" stroke-dasharray="4 3" fill="none"/>
<path d="M554,1953 V1880 M554,1953 L530,1935 M554,1953 L578,1935" stroke="#ddd" stroke-width="1.3"/>
<path d="M551,1883 L554,1875 L557,1883 Z" fill="#ddd"/>
<text x="557" y="1876" style="fill:#ccc;font-size:10px">Y</text><text x="524" y="1932" style="fill:#ccc;font-size:10px">Z</text><text x="578" y="1932" style="fill:#ccc;font-size:10px">X</text>
<polygon points="130,1793 160,1793 156,1840 160,1880 138,1880 134,1840" fill="#9b9b9b"/>
<rect x="95" y="1880" width="126" height="47" fill="#9b9b9b"/>
<ellipse cx="153" cy="1882" rx="12" ry="22" fill="#e02020" filter="url(#bl2)"/>
<path d="M115,1888 Q125,1882 140,1883 M192,1888 Q180,1882 166,1883" stroke="#ee2020" stroke-width="2.5" fill="none"/>
<path d="M138,1879 L146,1883 L138,1887 Z M168,1879 L160,1883 L168,1887 Z" fill="#ee2020"/>
<path d="M154,1847 Q150,1800 145,1764" stroke="#44ee44" stroke-width="2.5" fill="none"/>
<path d="M140,1766 L144,1754 L150,1765 Z" fill="#44ee44"/>
<text x="126" y="1748" style="fill:#44ee44;font-size:13px">ISV</text>
<text x="175" y="1865" style="fill:#ee2020;font-size:13px">Occlusion</text>
<path d="M189,1903 H250" stroke="#cc77ee" stroke-width="3"/>
<path d="M248,1897 L260,1903 L248,1909 Z" fill="#cc77ee"/>
<text x="267" y="1908" style="fill:#cc77ee;font-size:13px">DA</text>
<path d="M824,1712 L1005,1706 Q1036,1708 1031,1732 Q1015,1790 960,1850 Q920,1885 824,1892 Z" fill="#9b9b9b"/>
<ellipse cx="850" cy="1761" rx="30" ry="7" fill="#000"/>
<ellipse cx="947" cy="1762" rx="12" ry="10" fill="#000"/>
<ellipse cx="912" cy="1807" rx="24" ry="15" fill="#000"/>
<ellipse cx="824" cy="1843" rx="12" ry="10" fill="#000"/>
<g fill="#e01818" filter="url(#bl4)">
<ellipse cx="866" cy="1795" rx="18" ry="22"/><ellipse cx="894" cy="1780" rx="16" ry="18"/><ellipse cx="918" cy="1768" rx="13" ry="15"/>
</g>
<path d="M916,1747 L925,1757 M990,1748 L978,1757" stroke="#ee2020" stroke-width="3"/>
<path d="M920,1760 L930,1762 L926,1752 Z M980,1752 L972,1762 L983,1762 Z" fill="#ee2020"/>
<text x="723" y="1740" style="fill:#cc77ee;font-size:13px">DA</text>
<path d="M778,1735 H864" stroke="#cc77ee" stroke-width="3"/>
<path d="M862,1729 L874,1735 L862,1741 Z" fill="#cc77ee"/>
<text x="877" y="1737" style="fill:#ee2020;font-size:13px">Occlusion</text>
<text x="763" y="1782" text-anchor="end" style="fill:#44aadd;font-size:13px">Towards</text>
<text x="763" y="1800" text-anchor="end" style="fill:#44aadd;font-size:13px">CPCs</text>
<path d="M863,1789 H787" stroke="#55bbee" stroke-width="3"/>
<path d="M789,1783 L777,1789 L789,1795 Z" fill="#55bbee"/>
<text x="763" y="1863" text-anchor="end" style="fill:#e8b040;font-size:13px">Towards</text>
<text x="763" y="1882" text-anchor="end" style="fill:#e8b040;font-size:13px">CV</text>
<path d="M859,1866 H785" stroke="#f0c050" stroke-width="3"/>
<path d="M787,1860 L775,1867 L787,1873 Z" fill="#f0c050"/>
</svg>
</body></html>
